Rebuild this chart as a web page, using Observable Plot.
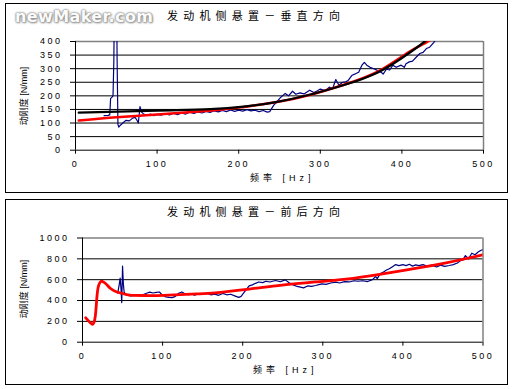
<!DOCTYPE html>
<html>
<head>
<meta charset="utf-8">
<script src="https://cdn.jsdelivr.net/npm/d3@7"></script>
<script src="https://cdn.jsdelivr.net/npm/@observablehq/plot@0.6"></script>
<style>
  body { margin:0; background:#fff; width:513px; height:389px; position:relative; overflow:hidden; }
  .panel { position:absolute; box-sizing:border-box; border:1px solid #000; }
  .abs { position:absolute; white-space:nowrap; color:#000; }
  .title { font-family:"Noto Sans CJK SC", sans-serif; font-size:11px; line-height:11px; letter-spacing:5.2px; }
  .xlab { font-family:"Liberation Sans","Noto Sans CJK SC", sans-serif; font-size:9px; line-height:9px; letter-spacing:4px; }
  .ylab { font-family:"Liberation Sans","Noto Sans CJK SC", sans-serif; font-size:9px; line-height:10px; width:100px; height:10px; text-align:center; transform:rotate(-90deg); }
  .wm { font-family:"DejaVu Sans", sans-serif; font-weight:bold; font-size:16px; line-height:18px; letter-spacing:0.4px; color:#fbfbfb;
        text-shadow: 0 0 1px #888, 0 0 2px #888, 0 0 3px #aaa, 1px 1px 2px #999; }
  svg.chart { position:absolute; left:0; }
</style>
</head>
<body>
<div class="panel" style="left:5px;top:3px;width:503px;height:190px"></div>
<div class="panel" style="left:5px;top:199px;width:503px;height:186px"></div>
<div id="c1"></div>
<div id="c2"></div>
<script>
// ---- Data ----
const title1 = "发动机侧悬置－垂直方向";
const title2 = "发动机侧悬置－前后方向";
const yLabel = "动刚度 [N/mm]";
const xLabel = "频率 [Hz]";
const watermark = "newMaker.com";

const xTicks = [0, 100, 200, 300, 400, 500];
const yTicks1 = [0, 50, 100, 150, 200, 250, 300, 350, 400];
const yTicks2 = [0, 200, 400, 600, 800, 1000];

// Top: measured (navy)
const vertMeasured = [[35,127],[40,128],[42,130],[43,190],[45,196],[46,200],[47,330],[48,700],[50,700],[51,330],[52,95],[53,85],[55,92],[58,100],[62,110],[66,108],[70,118],[73,121],[75,112],[77,100],[79,160],[81,140],[84,132],[88,128],[92,133],[96,127],[100,132],[105,129],[110,135],[115,130],[120,136],[125,131],[130,137],[135,133],[140,140],[145,135],[150,141],[155,137],[160,143],[165,139],[170,145],[175,141],[180,146],[185,142],[190,148],[195,143],[200,147],[205,144],[210,149],[215,145],[220,147],[225,142],[230,146],[235,140],[238,142],[243,166],[246,175],[249,186],[252,196],[257,209],[261,200],[266,217],[270,206],[275,211],[280,207],[287,221],[292,212],[296,218],[300,225],[306,219],[311,232],[315,226],[319,260],[323,238],[327,250],[331,252],[334,256],[339,276],[343,281],[347,287],[351,313],[354,323],[357,313],[361,305],[367,298],[371,292],[375,286],[377,280],[381,298],[385,295],[389,313],[393,305],[399,313],[403,305],[405,318],[409,325],[413,328],[418,344],[422,356],[426,360],[430,374],[434,379],[439,396],[442,410]];
// Top: red fit
const vertFitRed = [[4,109],[50,121],[100,131],[171,147],[206,159],[247,177],[288,204],[328,240],[371,290],[408,360],[432,400],[440,425]];
// Top: black fit
const vertFitBlack = [[4,138],[100,146],[165,151],[206,160],[247,178],[288,205],[328,239],[371,287],[408,356],[428,400],[435,420]];

// Bottom: measured (navy)
const foreMeasured = [[44,470],[46,560],[47,615],[48,520],[49,380],[50,730],[51,560],[52,480],[54,460],[57,450],[60,445],[65,450],[70,455],[75,455],[80,470],[84,480],[88,472],[92,478],[96,482],[100,450],[104,435],[108,430],[112,428],[116,440],[120,470],[124,482],[128,465],[132,455],[136,462],[140,450],[145,465],[150,458],[155,470],[160,455],[165,462],[170,450],[175,468],[180,455],[185,460],[190,445],[195,430],[198,440],[201,470],[204,500],[208,540],[212,550],[216,565],[220,578],[225,572],[229,585],[234,578],[241,592],[247,580],[253,598],[258,570],[263,550],[268,535],[272,528],[276,521],[281,540],[286,535],[291,544],[295,552],[299,560],[304,555],[310,568],[316,576],[321,568],[327,582],[333,578],[339,590],[344,585],[350,590],[356,582],[362,600],[366,630],[368,610],[372,660],[375,670],[379,690],[383,705],[387,725],[391,745],[395,735],[400,745],[404,735],[408,748],[412,730],[416,742],[420,735],[425,745],[430,730],[436,740],[442,722],[447,740],[452,728],[458,736],[463,745],[468,760],[472,783],[475,790],[478,831],[482,800],[486,854],[490,840],[494,865],[497,880],[500,888]];
// Bottom: red fit
const foreFitRed = [[4,234],[8,200],[12,172],[14,185],[16,250],[18,432],[20,540],[23,583],[26,578],[30,555],[35,515],[43,482],[51,465],[59,452],[80,448],[101,450],[143,463],[166,474],[208,510],[249,548],[291,578],[329,606],[371,652],[412,704],[454,762],[500,838]];

// ---- helpers ----
function addText(cls, text, style) {
  const d = document.createElement("div");
  d.className = "abs " + cls;
  d.textContent = text;
  Object.assign(d.style, style);
  document.body.appendChild(d);
}

const svgStyle = "background: transparent; overflow: visible; font-family: 'Liberation Sans', Arial, sans-serif; font-size: 9px; letter-spacing: 2.5px; color: #000;";

function panel(cfg) {
  const grid = cfg.yTicks.slice(1, -1);
  const top = cfg.yTicks[cfg.yTicks.length - 1];
  return Plot.plot({
    width: 513,
    height: cfg.height,
    marginLeft: cfg.ml, marginRight: cfg.mr, marginTop: cfg.mt, marginBottom: cfg.mb,
    style: svgStyle,
    x: {domain: [0, 500]},
    y: {domain: [0, top]},
    marks: [
      Plot.ruleY(grid, {stroke: "#000", strokeWidth: 1}),
      Plot.ruleY([top], {stroke: "#808080", strokeWidth: 1.5}),
      Plot.ruleX([500], {stroke: "#808080", strokeWidth: 1.5}),
      ...cfg.lines,
      Plot.ruleY([0], {stroke: "#000", strokeWidth: 1}),
      Plot.ruleX([0], {stroke: "#000", strokeWidth: 1}),
      Plot.axisX({ticks: xTicks, tickSize: 4, tickPadding: 6, tickFormat: d => String(d), label: null, fontSize: 9}),
      Plot.axisY({ticks: cfg.yTicks, tickSize: 5, tickPadding: 8, tickFormat: d => String(d), label: null, fontSize: 9})
    ]
  });
}

const p1 = panel({
  height: 196, ml: 75, mr: 30, mt: 41, mb: 46.3, yTicks: yTicks1,
  lines: [
    Plot.line(vertMeasured, {x: d => d[0], y: d => d[1], stroke: "#000080", strokeWidth: 1.2, clip: true}),
    Plot.line(vertFitRed, {x: d => d[0], y: d => d[1], stroke: "#ff0000", strokeWidth: 2.5, curve: "natural", clip: true}),
    Plot.line(vertFitBlack, {x: d => d[0], y: d => d[1], stroke: "#000", strokeWidth: 2.3, curve: "natural", clip: true})
  ]
});
p1.classList.add("chart");
p1.style.top = "0px";
document.getElementById("c1").appendChild(p1);

const p2 = panel({
  height: 193, ml: 82, mr: 30.5, mt: 41.5, mb: 47.3, yTicks: yTicks2,
  lines: [
    Plot.line(foreMeasured, {x: d => d[0], y: d => d[1], stroke: "#000080", strokeWidth: 1.2, clip: true}),
    Plot.line(foreFitRed, {x: d => d[0], y: d => d[1], stroke: "#ff0000", strokeWidth: 2.8, curve: "natural", clip: true})
  ]
});
p2.classList.add("chart");
p2.style.top = "196px";
document.getElementById("c2").appendChild(p2);

// ---- text ----
addText("wm", watermark, {left: "15px", top: "8px"});
addText("title", title1, {left: "167px", top: "10px"});
addText("title", title2, {left: "167px", top: "206px"});
addText("xlab", xLabel, {left: "250px", top: "174px"});
addText("xlab", xLabel, {left: "253px", top: "366px"});
addText("ylab", yLabel, {left: "-26px", top: "91px"});
addText("ylab", yLabel, {left: "-26px", top: "284px"});
</script>
</body>
</html>
